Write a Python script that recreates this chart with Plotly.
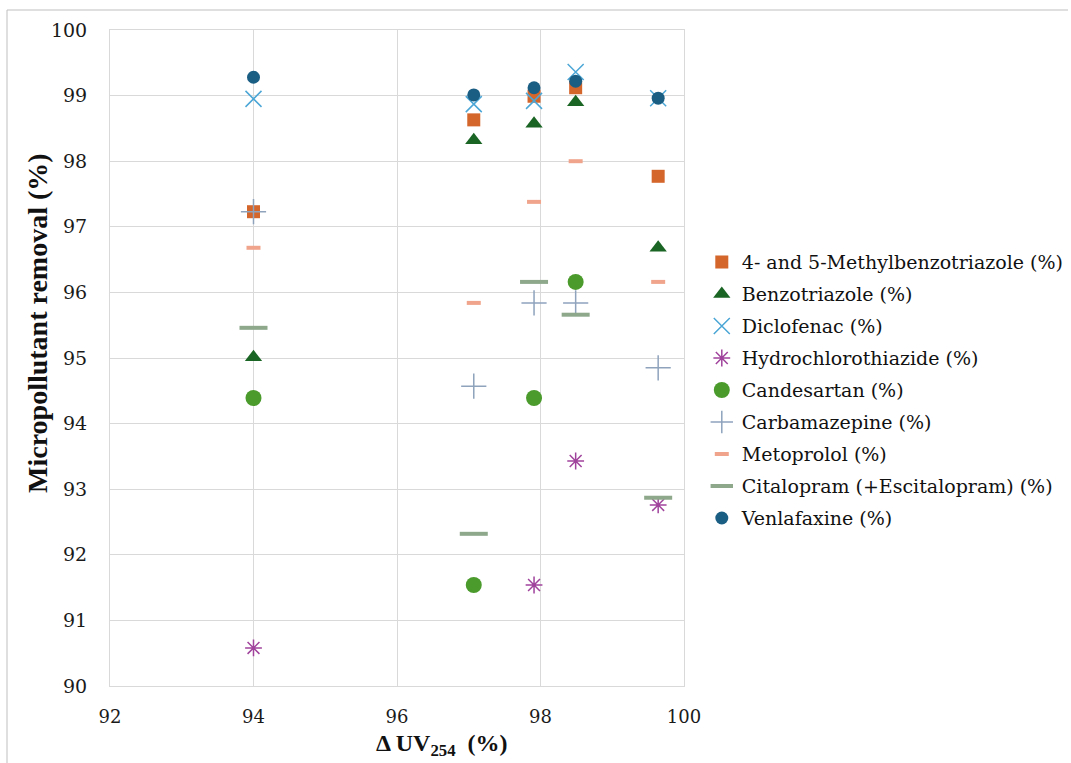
import plotly.graph_objects as go

# x positions (Delta UV254, %)
x_cols = [94.0, 97.07, 97.91, 98.49, 99.64]

methylbenzotriazole = [97.23, 98.63, 98.99, 99.12, 97.77]
benzotriazole = [95.01, 98.32, 98.57, 98.90, 96.68]
diclofenac = [98.95, 98.87, 98.92, 99.36, 98.96]
hydrochlorothiazide = [90.58, None, 91.54, 93.43, 92.76]
candesartan = [94.39, 91.54, 94.39, 96.16, None]
carbamazepine = [97.23, 94.57, 95.84, 95.84, 94.85]
metoprolol = [96.68, 95.84, 97.38, 98.00, 96.16]
citalopram = [95.46, 92.32, 96.16, 95.66, 92.87]
venlafaxine = [99.28, 99.01, 99.12, 99.22, 98.96]

x_ticks = [92, 94, 96, 98, 100]
y_ticks = [90, 91, 92, 93, 94, 95, 96, 97, 98, 99, 100]

series = [
    ("4- and 5-Methylbenzotriazole (%)", methylbenzotriazole,
     dict(symbol="square", size=13, color="#D4652B")),
    ("Benzotriazole (%)", benzotriazole,
     dict(symbol="triangle-up", size=15, color="#1A6524")),
    ("Diclofenac (%)", diclofenac,
     dict(symbol="x-thin", size=16, color="#4BA6D6",
          line=dict(color="#4BA6D6", width=1.5))),
    ("Hydrochlorothiazide (%)", hydrochlorothiazide,
     dict(symbol="asterisk", size=14, color="#A0439C",
          line=dict(color="#A0439C", width=1.5))),
    ("Candesartan (%)", candesartan,
     dict(symbol="circle", size=16, color="#4A9A2C")),
    ("Carbamazepine (%)", carbamazepine,
     dict(symbol="cross-thin", size=18, color="#8FA3BD",
          line=dict(color="#8FA3BD", width=1.5))),
    ("Metoprolol (%)", metoprolol,
     dict(symbol="line-ew", size=10, color="#F0A48B",
          line=dict(color="#F0A48B", width=4))),
    ("Citalopram (+Escitalopram) (%)", citalopram,
     dict(symbol="line-ew", size=20, color="#8DA88A",
          line=dict(color="#8DA88A", width=4))),
    ("Venlafaxine (%)", venlafaxine,
     dict(symbol="circle", size=13, color="#1B5E84")),
]

fig = go.Figure()
for i, (name, vals, mk) in enumerate(series):
    fig.add_trace(go.Scatter(
        x=x_cols, y=vals, mode="markers", name=name, marker=mk,
        legendgroup=f"g{i}",
    ))

grid = "#D9D9D9"
fig.update_layout(
    width=1071, height=763,
    margin=dict(l=110, r=387, t=30, b=77, autoexpand=False),
    plot_bgcolor="white", paper_bgcolor="white",
    font=dict(family="DejaVu Serif", size=18, color="#222222"),
    legend=dict(
        x=1.031, xanchor="left", y=0.451, yanchor="middle",
        font=dict(family="DejaVu Serif", size=19, color="#111111"),
        tracegroupgap=4.3, itemwidth=30, bgcolor="rgba(0,0,0,0)",
    ),
    xaxis=dict(
        range=[92, 100], tickvals=x_ticks, ticktext=[str(t) for t in x_ticks],
        showgrid=True, gridcolor=grid, gridwidth=1,
        showline=True, linecolor=grid, mirror=True, zeroline=False,
        ticks="", ticklabelstandoff=14,
        tickfont=dict(family="DejaVu Serif", size=18, color="#1a1a1a"),
    ),
    yaxis=dict(
        range=[90, 100], tickvals=y_ticks, ticktext=[str(t) for t in y_ticks],
        showgrid=True, gridcolor=grid, gridwidth=1,
        showline=True, linecolor=grid, mirror=True, zeroline=False,
        ticks="", ticklabelstandoff=18,
        tickfont=dict(family="DejaVu Serif", size=19, color="#1a1a1a"),
    ),
    annotations=[
        dict(text="<b>Δ UV<sub>254</sub>  (%)</b>", xref="paper", yref="paper",
             x=(442 - 110) / 574, y=(686 - 745) / 656,
             xanchor="center", yanchor="middle", showarrow=False,
             font=dict(family="Liberation Serif", size=24, color="#111111")),
        dict(text="<b>Micropollutant removal (%)</b>", xref="paper", yref="paper",
             x=(37 - 110) / 574, y=(686 - 323) / 656, textangle=-90,
             xanchor="center", yanchor="middle", showarrow=False,
             font=dict(family="Liberation Serif", size=28, color="#111111")),
    ],
    shapes=[
        dict(type="line", xref="paper", yref="paper",
             x0=(7 - 110) / 574, x1=(1068 - 110) / 574,
             y0=(686 - 10) / 656, y1=(686 - 10) / 656,
             line=dict(color="#BFBFBF", width=1)),
        dict(type="line", xref="paper", yref="paper",
             x0=(7 - 110) / 574, x1=(7 - 110) / 574,
             y0=(686 - 10) / 656, y1=(686 - 763) / 656,
             line=dict(color="#BFBFBF", width=1)),
    ],
)

fig.write_html("out.html")
